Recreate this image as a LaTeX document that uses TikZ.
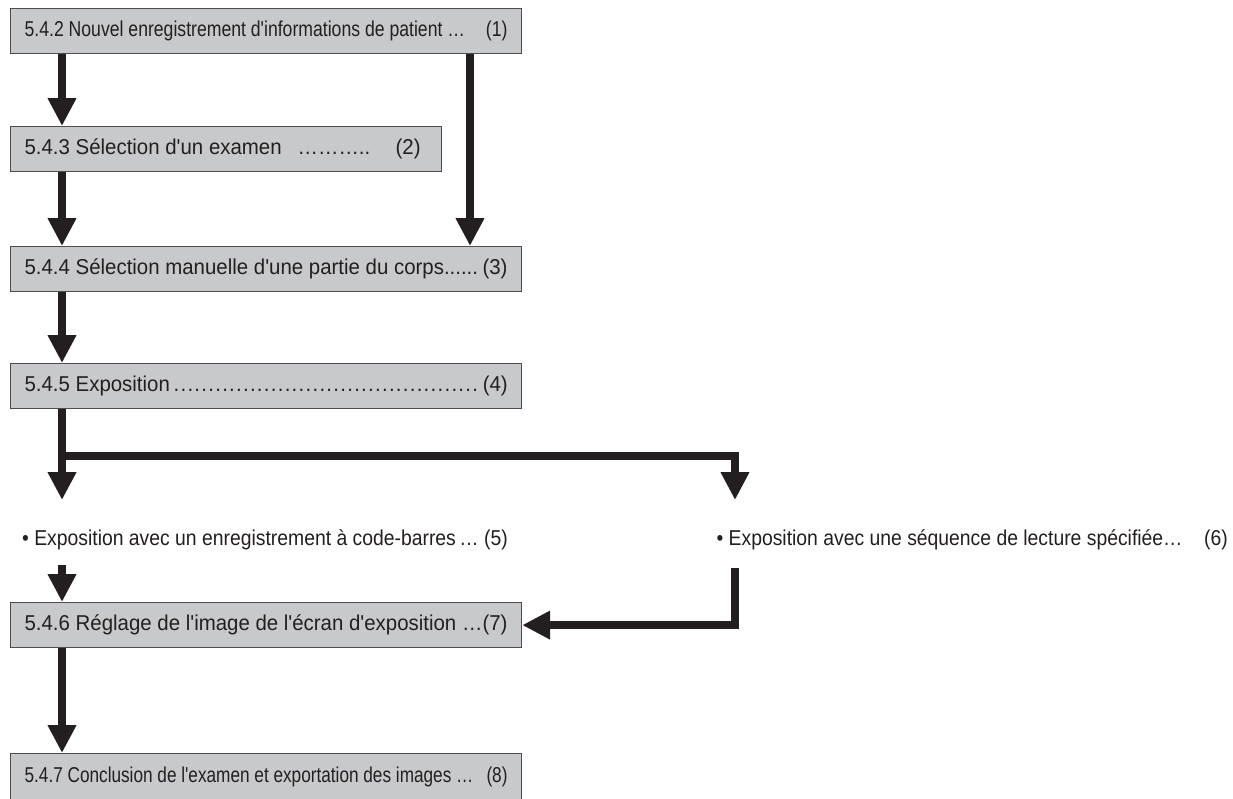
\documentclass[tikz,border=0pt]{standalone}
\usepackage{fontspec}
\setmainfont{Liberation Sans}[FakeStretch=0.95,Ligatures=TeXOff]
\newfontfamily\narrowfont{Liberation Sans}[FakeStretch=0.82,Ligatures=TeXOff]
\newfontfamily\narrowerfont{Liberation Sans}[FakeStretch=0.80,Ligatures=TeXOff]
\newfontfamily\bulfont{Liberation Sans}[FakeStretch=0.9,Ligatures=TeXOff]
\usetikzlibrary{arrows.meta,calc}
\definecolor{ink}{HTML}{231F20}
\definecolor{boxfill}{HTML}{C8C9CB}
\definecolor{boxline}{HTML}{4D4D4F}
\newcommand\rowtext[3]{\hbox to #1{#2\hfill #3}}
\newcommand\dotlead{\xleaders\hbox to 6.8pt{\hss.\hss}\hfill}
\begin{document}
\begin{tikzpicture}[x=1pt,y=-1pt,
  stepbox/.style={draw=boxline, line width=1.2pt, fill=boxfill, anchor=north west,
    minimum height=45pt, inner xsep=14pt, inner ysep=0pt, text=ink,
    font=\fontsize{21.5}{25}\selectfont},
  narrow/.style={font=\narrowfont\fontsize{21.5}{25}\selectfont},
  narrower/.style={font=\narrowerfont\fontsize{21.5}{25}\selectfont},
  arr/.style={draw=ink, line width=8.5pt, line join=miter,
    -{Triangle[width=27pt,length=28pt]}},
  bullet/.style={text=ink, inner sep=0pt, font=\bulfont\fontsize{21.5}{25}\selectfont}]
\useasboundingbox[fill=white] (0,0) rectangle (1233,798);

\node[stepbox, narrow, minimum width=511pt] (b1) at (10,8)
  {\rowtext{483pt}{5.4.2 Nouvel enregistrement d'informations de patient …}{(1)}};
\node[stepbox, minimum width=431pt] (b2) at (10,126)
  {\rowtext{403pt}{5.4.3 Sélection d'un examen\hspace{16pt}………..}{(2)\kern7pt}};
\node[stepbox, minimum width=511pt] (b3) at (10,246)
  {\rowtext{483pt}{5.4.4 Sélection manuelle d'une partie du corps......}{(3)}};
\node[stepbox, minimum width=511pt] (b4) at (10,363)
  {\hbox to 483pt{5.4.5 Exposition\kern3pt\dotlead\kern4pt(4)}};

\node[bullet, anchor=west] (p5) at (22,540)
  {• Exposition avec un enregistrement à code-barres\,… (5)};
\node[bullet, anchor=east] (p6) at (1228,540)
  {• Exposition avec une séquence de lecture spécifiée…\quad(6)};

\node[stepbox, minimum width=511pt] (b7) at (10,602)
  {\rowtext{483pt}{5.4.6 Réglage de l'image de l'écran d'exposition …}{(7)}};
\node[stepbox, narrower, minimum width=511pt, minimum height=47pt] (b8) at (10,753)
  {\rowtext{483pt}{5.4.7 Conclusion de l'examen et exportation des images …\ }{(8)}};

\coordinate (L) at (62,0);
\coordinate (R1) at (470,0);
\coordinate (t5) at (62,500);
\coordinate (t6) at (735,500);
\coordinate (j) at (735,456);
\coordinate (s5) at (62,565);
\coordinate (s6) at (735,568);

\draw[arr] (b1.south -| L) -- (b2.north -| L);
\draw[arr] (b1.south -| R1) -- (b3.north -| R1);
\draw[arr] (b2.south -| L) -- (b3.north -| L);
\draw[arr] (b3.south -| L) -- (b4.north -| L);
\draw[arr] (b4.south -| L) -- (t5);
\draw[arr] (j -| L) -- (j) -- (t6);
\draw[arr] (s5) -- (b7.north -| L);
\draw[arr] (s6) |- (b7.east);
\draw[arr] (b7.south -| L) -- (b8.north -| L);
\end{tikzpicture}
\end{document}
